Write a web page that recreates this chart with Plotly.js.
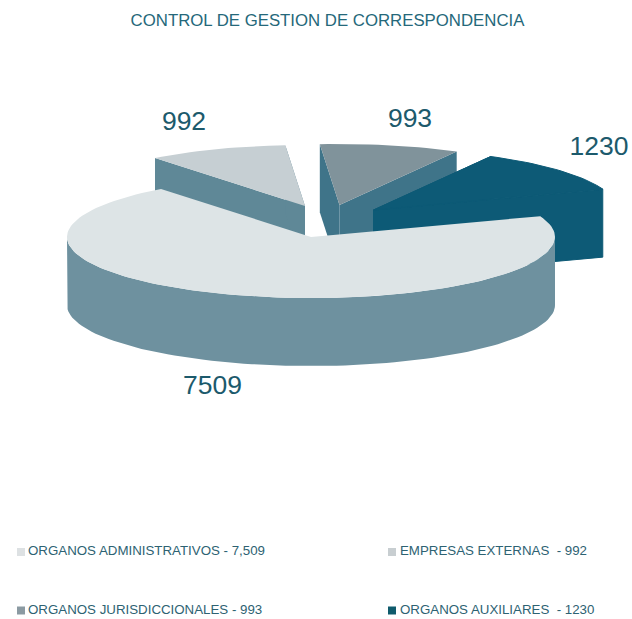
<!DOCTYPE html>
<html>
<head>
<meta charset="utf-8">
<script src="https://cdn.plot.ly/plotly-3.0.1.min.js"></script>
<style>html,body{margin:0;padding:0;background:#fff}#chart{width:632px;height:619px}</style>
</head>
<body>
<div id="chart"></div>
<script>
// Data (in pie order, clockwise from the large slice)
const categories = ["ORGANOS ADMINISTRATIVOS", "EMPRESAS EXTERNAS", "ORGANOS JURISDICCIONALES", "ORGANOS AUXILIARES"];
const values = [7509, 992, 993, 1230];
const legendLabels = ["ORGANOS ADMINISTRATIVOS - 7,509", "EMPRESAS EXTERNAS  - 992", "ORGANOS JURISDICCIONALES - 993", "ORGANOS AUXILIARES  - 1230"];
const valueLabels = ["7509", "992", "993", "1230"];

// Styles
const topColors = ["#dde4e6", "#c6cfd3", "#80939b", "#0d5a76"];
const sideColors = ["#6e919f", "#5f8897", "#3f7489", "#0d5a76"];
const legendColors = ["#dde1e3", "#c8ced1", "#8b9aa2", "#0f5b6c"];
const textColor = "#1c5a6c";

// Projection geometry of the tilted pie (axis units equal pixels)
const centreX = [311, 305, 339.5, 373.5];
const centreY = [237, 206, 205, 210];
const radiusX = 244, radiusY = 61, depth = 68;
const startAngle = 70;
const labelX = [212.5, 184, 410, 599];
const labelY = [387.5, 123, 120, 148];
const legendX = [21, 392, 21, 392];
const legendY = [552, 552, 610.5, 610.5];
const legendTextX = [28, 400, 28, 400];

const total = values.reduce((a, b) => a + b, 0);
const traces = [];
const rim = (i, deg) => {
  const r = deg * Math.PI / 180;
  return [centreX[i] + radiusX * Math.sin(r), centreY[i] - radiusY * Math.cos(r)];
};
const poly = (pts, color, w) => traces.push({
  type: "scatter", mode: "lines", x: pts.map(p => p[0]), y: pts.map(p => p[1]),
  fill: "toself", fillcolor: color, line: {width: w || 0, color: color}, hoverinfo: "skip", showlegend: false
});
const arc = (i, a, b) => {
  const pts = [], n = Math.max(2, Math.ceil(Math.abs(b - a) / 2));
  for (let k = 0; k <= n; k++) pts.push(rim(i, a + (b - a) * k / n));
  return pts;
};
const drop = p => [p[0], p[1] + depth];

// Slice angular extents from the values
const spans = [];
let angle = startAngle;
values.forEach(v => { const sweep = v / total * 360; spans.push([angle, angle + sweep]); angle += sweep; });

// Painter's order: back slices first, large slice last
[1, 2, 3, 0].forEach(i => {
  const [a, b] = spans[i];
  const apex = [centreX[i], centreY[i]];
  const seam = topColors[i] === sideColors[i] ? 1 : 0;
  if (i !== 0) {
    [a, b].forEach(t => {
      const p = rim(i, t);
      poly([apex, p, drop(p), drop(apex), apex], sideColors[i], seam);
    });
  } else {
    const front = arc(i, 90, 270);
    poly(front.concat(front.map(drop).reverse()), sideColors[i]);
  }
  poly([apex].concat(arc(i, a, b)).concat([apex]), topColors[i], seam);
});

// Value labels
traces.push({
  type: "scatter", mode: "text", x: labelX, y: labelY, text: valueLabels,
  textposition: "middle center", hoverinfo: "skip", showlegend: false,
  textfont: {family: "Liberation Sans, Arial, sans-serif", size: 26.5, color: textColor}
});

// Legend
categories.forEach((c, i) => traces.push({
  type: "scatter", mode: "markers", name: c, x: [legendX[i]], y: [legendY[i]],
  marker: {symbol: "square", size: 8, color: legendColors[i]}, hoverinfo: "skip", showlegend: false
}));
traces.push({
  type: "scatter", mode: "text", x: legendTextX, y: legendY, text: legendLabels,
  textposition: "middle right", hoverinfo: "skip", showlegend: false,
  textfont: {family: "Liberation Sans, Arial, sans-serif", size: 13.3, color: "#2d6272"}
});

const layout = {
  width: 632, height: 619, margin: {l: 0, r: 0, t: 0, b: 0},
  paper_bgcolor: "#ffffff", plot_bgcolor: "#ffffff", showlegend: false,
  title: {text: "CONTROL DE GESTION DE CORRESPONDENCIA", x: 327.5 / 632, xanchor: "center", y: 1 - 20 / 619, yanchor: "middle",
    font: {family: "Liberation Sans, Arial, sans-serif", size: 16.8, color: "#25687a"}},
  xaxis: {range: [0, 632], visible: false, fixedrange: true},
  yaxis: {range: [619, 0], visible: false, fixedrange: true}
};
Plotly.newPlot("chart", traces, layout, {displayModeBar: false, staticPlot: true});
</script>
</body>
</html>
